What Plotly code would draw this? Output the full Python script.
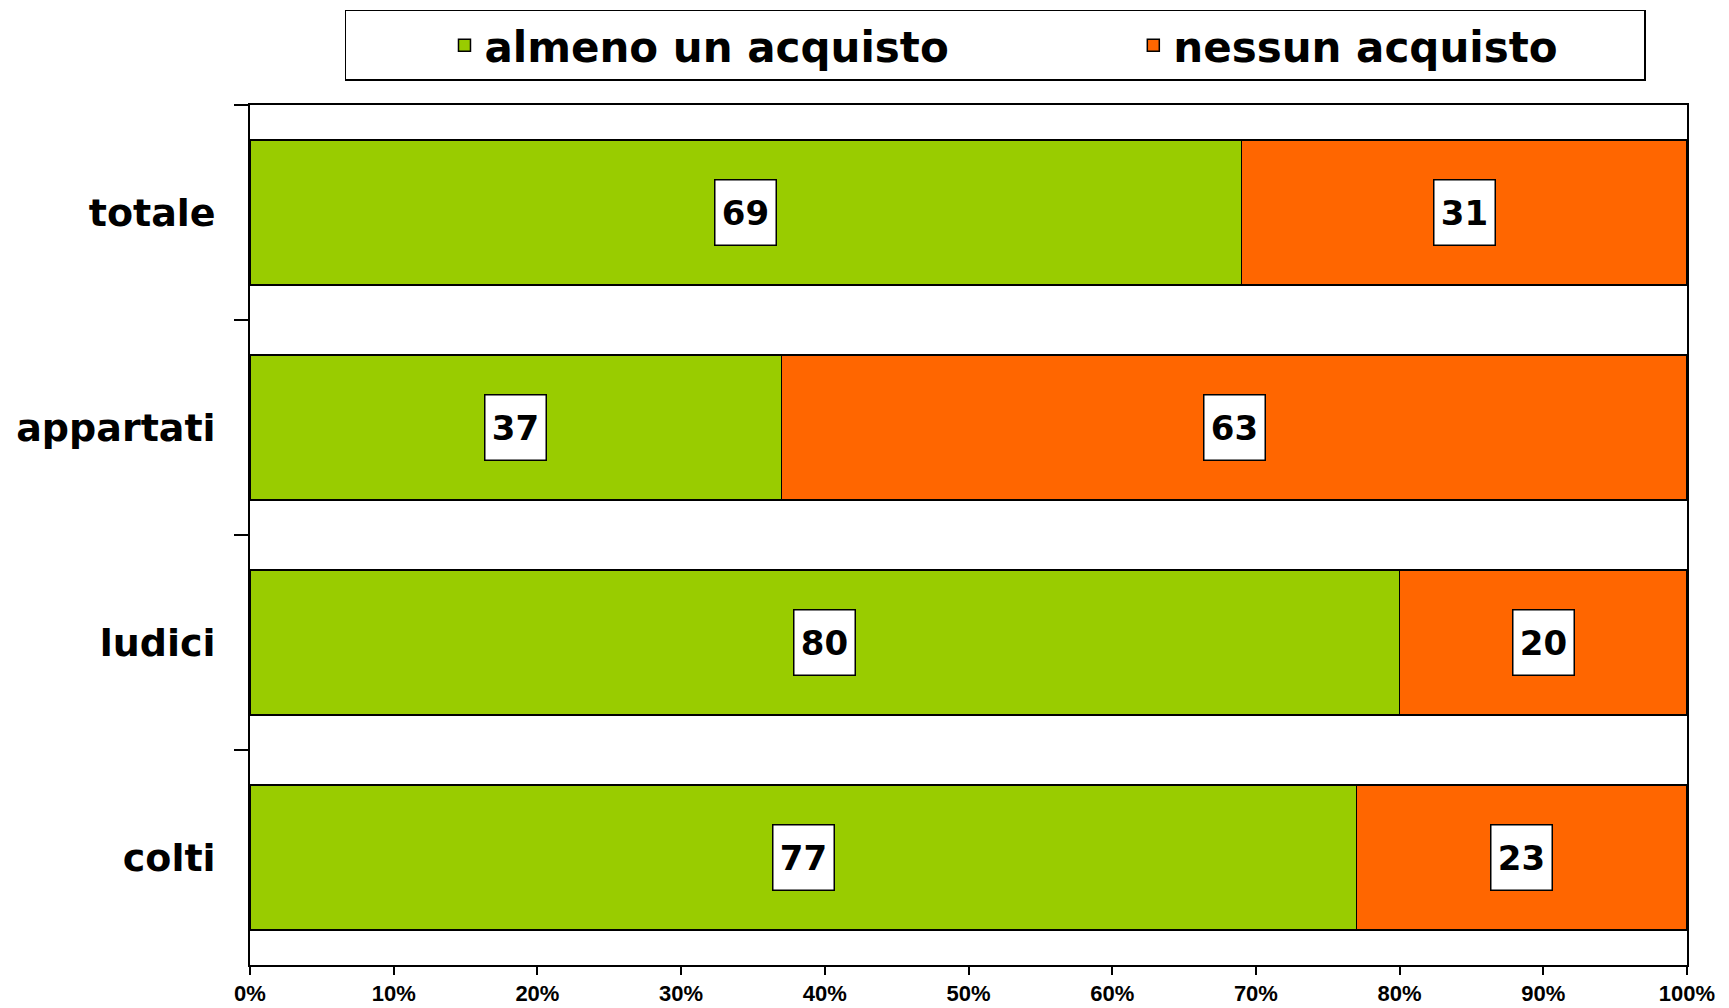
import plotly.graph_objects as go

categories = ["totale", "appartati", "ludici", "colti"]
series_names = ["almeno un acquisto", "nessun acquisto"]
almeno = [69, 37, 80, 77]
nessuno = [31, 63, 20, 23]
colors = ["#99CC00", "#FF6600"]
x_ticks = list(range(0, 101, 10))

fig = go.Figure()
pad = "\u00a0" * 5 + "\u2009"
legend_names = [series_names[0] + pad, series_names[1] + pad]
for vals, name, col in zip([almeno, nessuno], legend_names, colors):
    fig.add_trace(go.Bar(
        y=categories, x=vals, name=name, orientation="h",
        marker=dict(color=col, line=dict(color="black", width=1.5)),
        width=0.674, hoverinfo="x+y",
    ))

annotations = []
for i, cat in enumerate(categories):
    base = 0
    for vals in (almeno, nessuno):
        v = vals[i]
        annotations.append(dict(
            x=base + v / 2, y=cat, xref="x", yref="y", text=str(v),
            showarrow=False, bgcolor="white", bordercolor="black",
            borderwidth=1.5, borderpad=6, width=48, height=52,
            font=dict(family="DejaVu Sans", size=34, color="black", weight="bold"),
        ))
        base += v

fig.update_layout(
    width=1713, height=1000,
    barmode="stack",
    paper_bgcolor="white", plot_bgcolor="white",
    margin=dict(l=242, r=34, t=97, b=43, autoexpand=False),
    annotations=annotations,
    showlegend=True,
    legend=dict(
        orientation="h", x=0.0661, xanchor="left", y=1.1105, yanchor="top",
        bgcolor="white", bordercolor="black", borderwidth=1.5,
        indentation=98,
        font=dict(family="DejaVu Sans", size=42, color="black", weight="bold"),
        traceorder="normal",
    ),
    xaxis=dict(
        range=[0, 100], tickvals=x_ticks, ticktext=[f"{t}%" for t in x_ticks],
        showgrid=False, zeroline=False, automargin=False,
        showline=True, linecolor="black", linewidth=1.5, mirror=True,
        ticks="outside", ticklen=8, tickwidth=1.5, tickcolor="black",
        tickfont=dict(family="Liberation Sans, Arial", size=22, color="black", weight="bold"),
    ),
    yaxis=dict(
        categoryorder="array", categoryarray=categories, autorange="reversed",
        showgrid=False, zeroline=False, automargin=False,
        showline=True, linecolor="black", linewidth=1.5, mirror=True,
        ticks="outside", ticklen=14, tickwidth=1.5, tickcolor="black",
        tickson="boundaries", ticklabelstandoff=25,
        tickfont=dict(family="DejaVu Sans", size=38, color="black", weight="bold"),
    ),
)

fig.write_html("out.html")
